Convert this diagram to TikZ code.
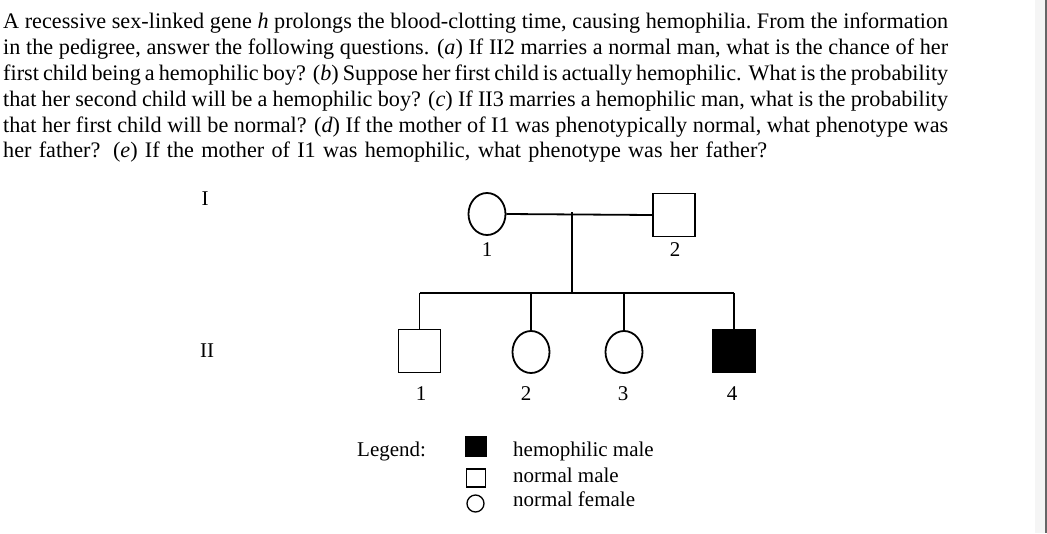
\documentclass[tikz,border=0pt]{standalone}
\usepackage{fontspec}
\setmainfont{Liberation Serif}
\usetikzlibrary{shapes.geometric}
\newcommand{\qline}[2][945pt]{\makebox[#1][s]{#2}}

\begin{document}
\begin{tikzpicture}[
            x = 1pt, y = -1pt,
            every node/.style={text depth=0pt, font=\fontsize{21}{25.8}\selectfont},
            line/.style={line width = 1.8pt},
            male/.style={draw, line width = 1.8pt, rectangle, minimum width=42pt, minimum height=43pt, inner sep=0pt},
            female/.style={draw, line width = 1.8pt, ellipse, minimum width=37pt, minimum height=42pt, inner sep=0pt},
            affected/.style={fill=black},
            key/.style={draw, line width = 1.3pt, inner sep=0pt},
            tag/.style={inner sep=0pt},
            ]
        \useasboundingbox (0,0) rectangle (1047,533);
        \fill[white] (0,0) rectangle (1047,533);
        \fill[black!4] (1035,0) rectangle (1045,533);
        \fill[black!60] (1045,0) rectangle (1047,533);
        % question text
        \node[tag, anchor=north west, align=left, font=\fontsize{22.2}{25.8}\selectfont] (question) at (3,13) {\frenchspacing
            \qline{A recessive sex-linked gene \textit{h} prolongs the blood-clotting time, causing hemophilia. From the information}\\
            \qline{in the pedigree, answer the following questions. (\textit{a}) If II2 marries a normal man, what is the chance of her}\\
            \qline{first child being a hemophilic boy? (\textit{b}) Suppose her first child is actually hemophilic. What is the probability}\\
            \qline{that her second child will be a hemophilic boy? (\textit{c}) If II3 marries a hemophilic man, what is the probability}\\
            \qline{that her first child will be normal? (\textit{d}) If the mother of I1 was phenotypically normal, what phenotype was}\\
            \qline[764pt]{her father? (\textit{e}) If the mother of I1 was hemophilic, what phenotype was her father?}};
        % generations
        \node[tag] (gen1) at (205,199) {I};
        \node[tag] (gen2) at (207,351) {II};
        % parents
        \node[female] (f1) at (487,214) {};
        \node[male] (m2) at (674,215) {};
        \node[tag] (lf1) at (487,250) {1};
        \node[tag] (lm2) at (675,250) {2};
        % children
        \node[male] (c1) at (419.5,351) {};
        \node[female] (c2) at (531,352) {};
        \node[female] (c3) at (624,352) {};
        \node[male, affected] (c4) at (734,351) {};
        \node[tag] (lc1) at (421,394) {1};
        \node[tag] (lc2) at (526,394) {2};
        \node[tag] (lc3) at (623,394) {3};
        \node[tag] (lc4) at (732,394) {4};
        \coordinate (mate) at (572,212);
        \coordinate (sib) at (572,293);
        \draw[line] (f1.east) -- (m2.west);
        \draw[line] (mate) -- (sib);
        \draw[line] (c1.north |- sib) -- (c4.north |- sib);
        \foreach \c in {c1,c2,c3,c4}
            \draw[line] (\c.north |- sib) -- (\c.north);
        % legend
        \node[tag, anchor=base west] (legend) at (357,456) {Legend:};
        \node[key, fill=black, minimum width=20pt, minimum height=19pt] (k1) at (476,446.5) {};
        \node[key, minimum width=19pt, minimum height=18pt] (k2) at (476,478) {};
        \node[key, circle, minimum size=17pt] (k3) at (475.5,503.5) {};
        \node[tag, anchor=base west] (t1) at (513,456) {hemophilic male};
        \node[tag, anchor=base west] (t2) at (513,482) {normal male};
        \node[tag, anchor=base west] (t3) at (513,506) {normal female};
    \end{tikzpicture}
\end{document}
